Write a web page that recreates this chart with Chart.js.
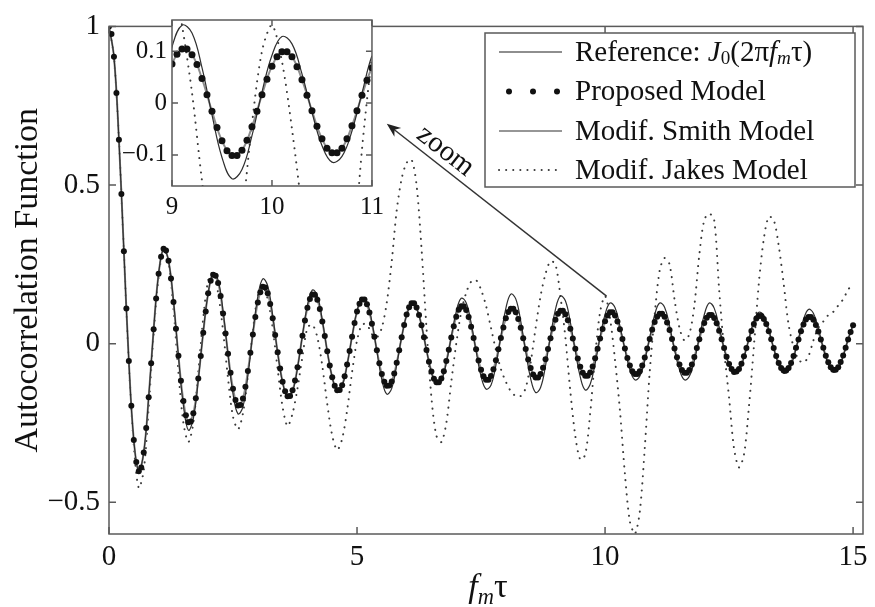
<!DOCTYPE html>
<html lang="en">
<head>
<meta charset="UTF-8">
<title>Autocorrelation Function</title>
<script src="https://cdn.jsdelivr.net/npm/chart.js"></script>
<style>
  body { margin:0; background:#fff; }
  #wrap { position:relative; width:875px; height:607px; }
  #mainChart { position:absolute; left:0; top:0; }
  #insetChart { position:absolute; left:100px; top:0; }
</style>
</head>
<body>
<div id="wrap">
  <canvas id="mainChart" width="875" height="607"></canvas>
  <canvas id="insetChart" width="290" height="232"></canvas>
</div>
<script>
const SERIF = '"Liberation Serif", "Times New Roman", serif';

// sample spacing along f_m*tau
const fineStep = 0.05;    // proposed model markers
const coarseStep = 0.1;   // line series

// Proposed model (dots), f_m*tau = 0 .. 15 step 0.05
const proposed = [
  1.000,.976,.904,.790,.643,.472,.291,.111,-.055,-.196,-.304,-.373,-.402,-.390,-.343,-.266,-.169,-.062,.045,.142,
  .220,.274,.299,.294,.261,.205,.131,.047,-.038,-.117,-.181,-.226,-.248,-.245,-.219,-.172,-.110,-.039,.034,.101,
  .159,.198,.217,.214,.191,.150,.095,.032,-.032,-.092,-.142,-.178,-.195,-.193,-.173,-.136,-.086,-.029,.029,.084,
  .130,.162,.179,.177,.159,.125,.080,.027,-.027,-.078,-.120,-.150,-.166,-.165,-.147,-.116,-.074,-.025,.025,.073,
  .113,.141,.155,.154,.138,.109,.070,.024,-.024,-.069,-.106,-.133,-.147,-.146,-.131,-.103,-.066,-.023,.022,.065,
  .101,.126,.139,.139,.124,.098,.063,.022,-.021,-.062,-.096,-.120,-.133,-.132,-.119,-.094,-.060,-.021,.020,.059,
  .092,.115,.127,.127,.114,.090,.058,.020,-.020,-.057,-.088,-.111,-.122,-.122,-.110,-.087,-.055,-.019,.019,.055,
  .085,.107,.118,.118,.106,.084,.053,.018,-.018,-.053,-.082,-.103,-.114,-.114,-.102,-.081,-.052,-.018,.018,.051,
  .080,.100,.110,.110,.099,.078,.050,.017,-.017,-.050,-.077,-.097,-.107,-.107,-.096,-.076,-.049,-.017,.017,.048,
  .075,.094,.104,.104,.093,.074,.047,.016,-.016,-.047,-.073,-.092,-.101,-.101,-.091,-.072,-.046,-.016,.016,.046,
  .071,.089,.099,.099,.089,.070,.045,.015,-.015,-.045,-.069,-.087,-.096,-.096,-.087,-.069,-.044,-.015,.015,.044,
  .068,.085,.094,.094,.085,.067,.043,.015,-.015,-.043,-.066,-.083,-.092,-.092,-.083,-.066,-.042,-.014,.014,.042,
  .065,.082,.090,.090,.081,.064,.041,.014,-.014,-.041,-.064,-.080,-.089,-.088,-.080,-.063,-.040,-.014,.014,.040,
  .062,.079,.087,.087,.078,.062,.039,.014,-.014,-.039,-.061,-.077,-.085,-.085,-.077,-.061,-.039,-.013,.013,.039,
  .060,.076,.084,.084,.075,.059,.038,.013,-.013,-.038,-.059,-.074,-.082,-.082,-.074,-.058,-.037,-.013,.013,.037,
  .058
];

// Reference J0(2*pi*fm*tau), step 0.1
const reference = [
  1.000,.904,.643,.291,-.055,-.304,-.402,-.343,-.169,.045,
  .220,.299,.261,.131,-.038,-.181,-.248,-.219,-.110,.034,
  .159,.217,.191,.095,-.032,-.142,-.195,-.173,-.086,.029,
  .130,.179,.159,.080,-.027,-.120,-.166,-.147,-.074,.025,
  .113,.155,.138,.070,-.024,-.106,-.147,-.131,-.066,.022,
  .101,.139,.124,.063,-.021,-.096,-.133,-.119,-.060,.020,
  .092,.127,.114,.058,-.020,-.088,-.122,-.110,-.055,.019,
  .085,.118,.106,.053,-.018,-.082,-.114,-.102,-.052,.018,
  .080,.110,.099,.050,-.017,-.077,-.107,-.096,-.049,.017,
  .075,.104,.093,.047,-.016,-.073,-.101,-.091,-.046,.016,
  .071,.099,.089,.045,-.015,-.069,-.096,-.087,-.044,.015,
  .068,.094,.085,.043,-.015,-.066,-.092,-.083,-.042,.014,
  .065,.090,.081,.041,-.014,-.064,-.089,-.080,-.040,.014,
  .062,.087,.078,.039,-.014,-.061,-.085,-.077,-.039,.013,
  .060,.084,.075,.038,-.013,-.059,-.082,-.074,-.037,.013,
  .058
];

// Modified Smith model, step 0.1
const smith = [
  1.000,.904,.643,.291,-.055,-.304,-.402,-.343,-.169,.045,
  .220,.299,.261,.135,-.040,-.195,-.273,-.236,-.115,.037,
  .160,.222,.200,.102,-.035,-.158,-.221,-.199,-.100,.033,
  .148,.204,.182,.089,-.029,-.123,-.168,-.151,-.077,.027,
  .121,.169,.151,.074,-.024,-.106,-.148,-.133,-.067,.023,
  .103,.143,.131,.069,-.024,-.113,-.159,-.141,-.067,.021,
  .090,.123,.111,.057,-.020,-.091,-.128,-.117,-.061,.022,
  .101,.143,.129,.066,-.023,-.103,-.143,-.131,-.068,.024,
  .111,.156,.141,.071,-.025,-.110,-.154,-.138,-.070,.024,
  .108,.150,.135,.068,-.023,-.105,-.146,-.128,-.063,.021,
  .092,.128,.114,.056,-.018,-.082,-.114,-.103,-.054,.019,
  .091,.128,.115,.057,-.019,-.082,-.114,-.103,-.054,.019,
  .091,.128,.112,.053,-.016,-.068,-.094,-.085,-.044,.015,
  .071,.099,.089,.044,-.015,-.066,-.093,-.086,-.045,.016,
  .076,.108,.096,.047,-.015,-.065,-.089,-.080,-.040,.014,
  .060
];

// Modified Jakes model, step 0.1
const jakes = [
  1.000,.904,.643,.291,-.060,-.320,-.455,-.400,-.200,.030,
  .210,.300,.255,.110,-.090,-.250,-.310,-.250,-.090,.080,
  .200,.225,.160,.040,-.110,-.230,-.270,-.220,-.100,.040,
  .150,.180,.140,.050,-.080,-.200,-.260,-.220,-.140,-.040,
  .050,.060,.020,-.070,-.190,-.290,-.335,-.300,-.210,-.090,
  .010,.060,.060,.030,.020,.050,.130,.260,.420,.520,
  .570,.580,.500,.300,.050,-.170,-.290,-.310,-.250,-.120,
  .000,.100,.160,.195,.200,.170,.120,.050,-.020,-.080,
  -.120,-.150,-.165,-.165,-.140,-.060,.050,.150,.220,.260,
  .250,.150,.020,-.150,-.290,-.365,-.350,-.220,-.040,.100,
  .150,.080,-.050,-.210,-.410,-.560,-.600,-.530,-.330,-.090,
  .090,.230,.270,.250,.140,.050,.010,.030,.120,.280,
  .390,.410,.390,.170,-.020,-.170,-.330,-.390,-.350,-.200,
  -.010,.190,.330,.400,.390,.310,.190,.060,-.010,-.050,
  -.060,-.040,.010,.050,.070,.090,.100,.120,.140,.170,
  .190
];

const xTicks = [0, 5, 10, 15];
const yTicks = [-0.5, 0, 0.5, 1];
const insetXTicks = [9, 10, 11];
const insetYTicks = [-0.1, 0, 0.1];

// legend text runs: i = italic, sub = subscript
const legendRows = [
  [{t:'Reference: '},{t:'J',i:1},{t:'0',sub:1},{t:'(2π'},{t:'f',i:1},{t:'m',i:1,sub:1},{t:'τ)'}],
  [{t:'Proposed Model'}],
  [{t:'Modif. Smith Model'}],
  [{t:'Modif. Jakes Model'}]
];
const arrowFrom = {x: 10.03, y: 0.15};
const arrowTo = {x: 5.6, y: 0.693};

function toPts(arr, step){ return arr.map((v,i)=>({x: Math.round(i*step*100)/100, y: v})); }
function fmt(v){ return String(v).replace('-', '\u2212'); }

const STY = {
  ref:   {borderColor:'#8e8e8e', borderWidth:2},
  smith: {borderColor:'#2e2e2e', borderWidth:1.2},
  jakes: {borderColor:'#3a3a3a', borderWidth:2, borderDash:[0.1,7], borderCapStyle:'round'}
};

function makeDatasets(dotR){
  return [
    {label:'Proposed', data: toPts(proposed, fineStep), showLine:false, pointRadius:dotR,
     pointBackgroundColor:'#111', pointBorderWidth:0, order:0},
    {label:'Smith', data: toPts(smith, coarseStep), pointRadius:0, tension:0.4, order:1, ...STY.smith},
    {label:'Reference', data: toPts(reference, coarseStep), pointRadius:0, tension:0.4, order:2, ...STY.ref},
    {label:'Jakes', data: toPts(jakes, coarseStep), pointRadius:0, tension:0.3, order:3, ...STY.jakes}
  ];
}

function drawFrame(chart, xt, yt, len){
  const {ctx, chartArea:a, scales:{x, y}} = chart;
  ctx.save();
  ctx.strokeStyle = '#5a5a5a'; ctx.lineWidth = 1.5;
  ctx.strokeRect(a.left, a.top, a.right - a.left, a.bottom - a.top);
  ctx.beginPath();
  xt.forEach(v => { const p = x.getPixelForValue(v);
    ctx.moveTo(p, a.bottom); ctx.lineTo(p, a.bottom - len);
    ctx.moveTo(p, a.top); ctx.lineTo(p, a.top + len); });
  yt.forEach(v => { const p = y.getPixelForValue(v);
    ctx.moveTo(a.left, p); ctx.lineTo(a.left + len, p);
    ctx.moveTo(a.right, p); ctx.lineTo(a.right - len, p); });
  ctx.stroke();
  ctx.restore();
}

function runWidth(ctx, runs, size){
  let w = 0;
  runs.forEach(r => { const s = r.sub ? size*0.66 : size;
    ctx.font = (r.i ? 'italic ' : '') + s + 'px ' + SERIF; w += ctx.measureText(r.t).width; });
  return w;
}
function drawRuns(ctx, runs, x, y, size){
  runs.forEach(r => { const s = r.sub ? size*0.66 : size;
    ctx.font = (r.i ? 'italic ' : '') + s + 'px ' + SERIF;
    ctx.fillText(r.t, x, y + (r.sub ? size*0.22 : 0));
    x += ctx.measureText(r.t).width; });
}

function drawLegend(ctx){
  const box = {l:485, t:33, r:855, b:187};
  ctx.save();
  ctx.fillStyle = '#fff'; ctx.fillRect(box.l, box.t, box.r-box.l, box.b-box.t);
  ctx.strokeStyle = '#5a5a5a'; ctx.lineWidth = 1.5;
  ctx.strokeRect(box.l, box.t, box.r-box.l, box.b-box.t);
  const rowsY = [52, 91.5, 131, 170];
  const styles = [STY.ref, null, STY.smith, STY.jakes];
  rowsY.forEach((ry, k) => {
    const st = styles[k];
    if (st){
      ctx.beginPath(); ctx.strokeStyle = st.borderColor; ctx.lineWidth = st.borderWidth;
      ctx.setLineDash(st.borderDash || []); ctx.lineCap = st.borderCapStyle || 'butt';
      ctx.moveTo(499, ry); ctx.lineTo(562, ry); ctx.stroke();
      ctx.setLineDash([]); ctx.lineCap = 'butt';
    } else {
      ctx.fillStyle = '#111';
      [509, 533, 557].forEach(px => { ctx.beginPath(); ctx.arc(px, ry, 3, 0, Math.PI*2); ctx.fill(); });
    }
    ctx.fillStyle = '#111'; ctx.textBaseline = 'middle'; ctx.textAlign = 'left';
    drawRuns(ctx, legendRows[k], 575, ry + 1, 29);
  });
  ctx.restore();
}

function drawArrow(chart){
  const {ctx, scales:{x, y}} = chart;
  const x0 = x.getPixelForValue(arrowFrom.x), y0 = y.getPixelForValue(arrowFrom.y);
  const x1 = x.getPixelForValue(arrowTo.x), y1 = y.getPixelForValue(arrowTo.y);
  const len = Math.hypot(x0-x1, y0-y1), ux = (x0-x1)/len, uy = (y0-y1)/len;
  ctx.save();
  ctx.strokeStyle = '#333'; ctx.fillStyle = '#222'; ctx.lineWidth = 1.5;
  ctx.beginPath(); ctx.moveTo(x0, y0); ctx.lineTo(x1 + ux*8, y1 + uy*8); ctx.stroke();
  const hl = 14, hw = 5.5;
  ctx.beginPath(); ctx.moveTo(x1, y1);
  ctx.lineTo(x1 + ux*hl - uy*hw, y1 + uy*hl + ux*hw);
  ctx.lineTo(x1 + ux*hl*0.7, y1 + uy*hl*0.7);
  ctx.lineTo(x1 + ux*hl + uy*hw, y1 + uy*hl - ux*hw);
  ctx.closePath(); ctx.fill();
  // label along the arrow
  const tx = x1 + ux*63 + uy*7, ty = y1 + uy*63 - ux*7;
  ctx.translate(tx, ty); ctx.rotate(Math.atan2(uy, ux));
  ctx.font = '29px ' + SERIF; ctx.fillStyle = '#111';
  ctx.textAlign = 'center'; ctx.textBaseline = 'alphabetic';
  ctx.fillText('zoom', 0, 0);
  ctx.restore();
}

function drawTitles(chart){
  const {ctx, chartArea:a} = chart;
  ctx.save();
  ctx.fillStyle = '#111';
  ctx.font = '34px ' + SERIF; ctx.textAlign = 'center'; ctx.textBaseline = 'alphabetic';
  ctx.translate(37, (a.top + a.bottom)/2); ctx.rotate(-Math.PI/2);
  ctx.fillText('Autocorrelation Function', 0, 0);
  ctx.restore();
  const runs = [{t:'f',i:1},{t:'m',i:1,sub:1},{t:'τ'}];
  ctx.save(); ctx.fillStyle = '#111'; ctx.textAlign = 'left'; ctx.textBaseline = 'alphabetic';
  const w = runWidth(ctx, runs, 34);
  drawRuns(ctx, runs, (a.left + a.right)/2 - w/2 + 2, 597, 34);
  ctx.restore();
}

function axisCfg(min, max, ticks, fitKey, fitVal, size, pad){
  return {
    type:'linear', min, max,
    grid:{display:false, drawTicks:false}, border:{display:false},
    afterBuildTicks: s => { s.ticks = ticks.map(v => ({value:v})); },
    afterFit: s => { s[fitKey] = fitVal; },
    ticks:{font:{family:SERIF, size}, color:'#111', padding:pad, maxRotation:0, callback: fmt}
  };
}

new Chart(document.getElementById('mainChart'), {
  type:'line',
  data:{ datasets: makeDatasets(3) },
  options:{
    responsive:false, animation:false, devicePixelRatio:1,
    layout:{padding:{top:21, right:12, left:0, bottom:0}},
    plugins:{legend:{display:false}, tooltip:{enabled:false}},
    events:[],
    scales:{
      x: axisCfg(0, 15.2, xTicks, 'height', 73, 29, 6),
      y: axisCfg(-0.6, 1, yTicks, 'width', 109, 29, 9)
    }
  },
  plugins:[{
    id:'decor',
    afterDatasetsDraw(chart){
      drawFrame(chart, xTicks, yTicks, 7);
      drawLegend(chart.ctx);
      drawArrow(chart);
      drawTitles(chart);
    }
  }]
});

new Chart(document.getElementById('insetChart'), {
  type:'line',
  data:{ datasets: makeDatasets(3.5) },
  options:{
    responsive:false, animation:false, devicePixelRatio:1,
    layout:{padding:{top:12, right:13, left:0, bottom:0}},
    plugins:{legend:{display:false}, tooltip:{enabled:false}},
    events:[],
    scales:{
      x: axisCfg(9, 11, insetXTicks, 'height', 46, 25, 6),
      y: axisCfg(-0.16, 0.16, insetYTicks, 'width', 72, 25, 5)
    }
  },
  plugins:[{
    id:'insetDecor',
    beforeDraw(chart){
      const {ctx, chartArea:a} = chart;
      ctx.save(); ctx.fillStyle = '#fff';
      ctx.fillRect(a.left, a.top, a.right - a.left, a.bottom - a.top);
      ctx.restore();
    },
    afterDatasetsDraw(chart){ drawFrame(chart, insetXTicks, insetYTicks, 6); }
  }]
});
</script>
</body>
</html>
